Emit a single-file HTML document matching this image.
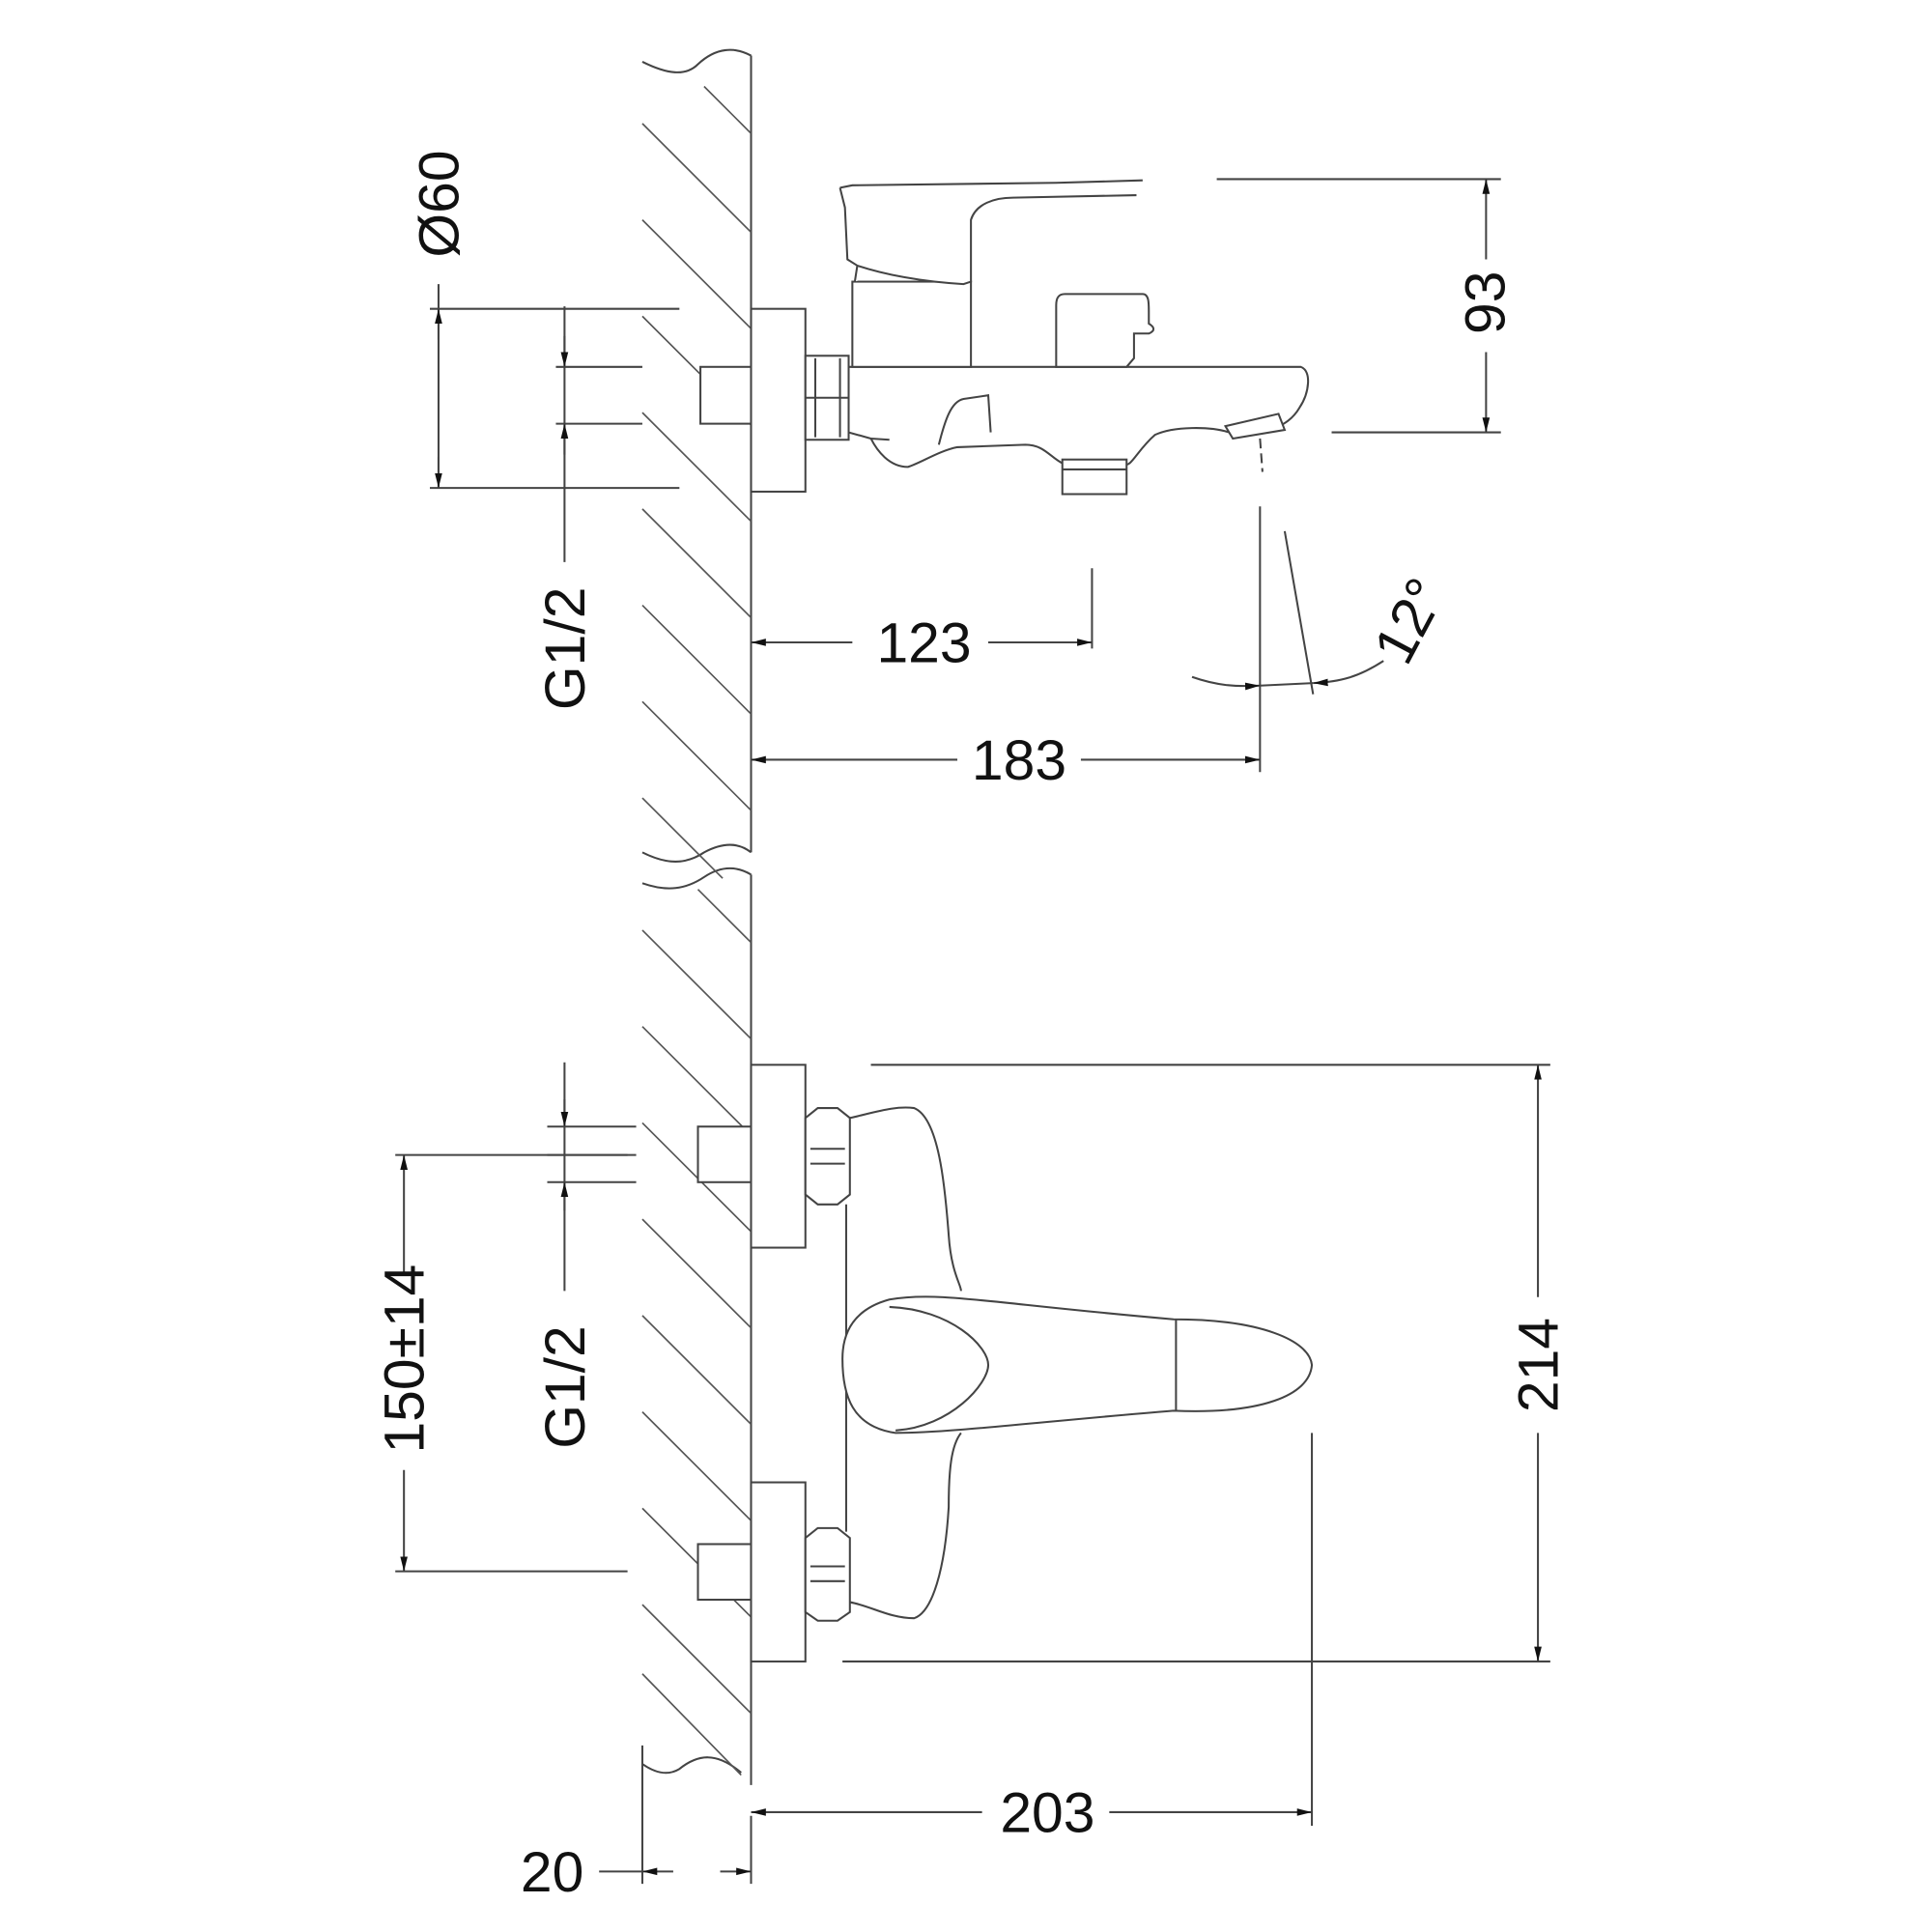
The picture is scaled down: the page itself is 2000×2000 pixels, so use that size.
<!DOCTYPE html>
<html><head><meta charset="utf-8"><style>html,body{margin:0;padding:0;background:#fff;overflow:hidden}svg{display:block}</style></head>
<body>
<svg width="2000" height="2000" viewBox="0 0 1564 1564" xmlns="http://www.w3.org/2000/svg">
<defs>
<marker id="a" viewBox="0 0 10 10" refX="10" refY="5" markerWidth="12" markerHeight="12" markerUnits="userSpaceOnUse" orient="auto-start-reverse"><path d="M0,2.5 L10,5 L0,7.5z" fill="#111"/></marker>
<clipPath id="hc"><rect x="500" y="0" width="108" height="1440"/></clipPath>
</defs>
<g fill="none" stroke="#444" stroke-width="1.6">
<line x1="608" y1="45" x2="608" y2="690"/>
<path d="M520,50 C540,60 555,62 565,52 C580,38 595,38 608,45"/>
<path d="M520,690 C540,700 555,700 570,690 C585,682 598,682 608,690"/>
<path d="M520,715 C540,722 555,720 570,710 C585,700 598,702 608,708"/>
<line x1="608" y1="708" x2="608" y2="1445"/>
<line x1="608" y1="1470" x2="608" y2="1525"/>
<path d="M520,1428 C530,1435 540,1438 550,1432 C565,1420 580,1418 600,1435"/>
<line x1="520" y1="1413" x2="520" y2="1525"/>
<g stroke="#555" stroke-width="1.3" clip-path="url(#hc)">
<line x1="570" y1="70" x2="608" y2="108"/>
<line x1="520" y1="100" x2="608" y2="188"/>
<line x1="520" y1="178" x2="608" y2="266"/>
<line x1="520" y1="256" x2="608" y2="344"/>
<line x1="520" y1="334" x2="608" y2="422"/>
<line x1="520" y1="412" x2="608" y2="500"/>
<line x1="520" y1="490" x2="608" y2="578"/>
<line x1="520" y1="568" x2="608" y2="656"/>
<line x1="520" y1="646" x2="585" y2="711"/>
<line x1="565" y1="720" x2="608" y2="763"/>
<line x1="520" y1="753" x2="608" y2="841"/>
<line x1="520" y1="831" x2="608" y2="919"/>
<line x1="520" y1="909" x2="608" y2="997"/>
<line x1="520" y1="987" x2="608" y2="1075"/>
<line x1="520" y1="1065" x2="608" y2="1153"/>
<line x1="520" y1="1143" x2="608" y2="1231"/>
<line x1="520" y1="1221" x2="608" y2="1309"/>
<line x1="520" y1="1299" x2="608" y2="1387"/>
<line x1="520" y1="1355" x2="600" y2="1437"/>
</g>
</g>
<g fill="#fff" stroke="#444" stroke-width="1.6">
<rect x="567" y="297" width="41" height="46"/>
<rect x="608" y="250" width="44" height="148"/>
<rect x="652" y="288" width="35" height="68"/>
<line x1="660" y1="290" x2="660" y2="354"/><line x1="680" y1="290" x2="680" y2="354"/><line x1="652" y1="322" x2="687" y2="322"/>
<path d="M687,297 L1053,297 C1062,300 1060,318 1052,330 C1045,342 1035,345 1030,348 L995,350 C980,345 950,345 935,352 C920,365 915,380 910,375 L860,375 C850,370 845,360 830,360 L775,362 C760,365 745,375 735,378 C720,378 710,365 705,355 L687,350 Z"/>
<path d="M760,360 C765,340 770,325 780,323 L800,320 L802,350"/>
<path d="M705,355 L720,356"/>
<rect x="690" y="228" width="96" height="69"/>
<path d="M692,228 L694,215 C715,222 745,228 780,230 L786,228 L786,178 C790,165 805,160 820,160 L920,158 M680,152 L690,150 L855,148 L925,146 M680,152 L684,168 L686,210 L694,215"/>
<path d="M855,297 L855,247 C855,240 858,238 862,238 L925,238 C930,238 930,245 930,252 L930,262 C935,265 935,268 930,270 L918,270 L918,290 L912,297 Z"/>
<rect x="860" y="372" width="52" height="28"/>
<line x1="860" y1="380" x2="912" y2="380"/>
<path d="M992,345 L1035,335 L1040,348 L998,355 Z"/>
</g>
<g fill="none" stroke="#444" stroke-width="1.6">
<line x1="1020" y1="355" x2="1022" y2="382" stroke-dasharray="8,4"/>
<line x1="985" y1="145" x2="1215" y2="145"/>
<line x1="1078" y1="350" x2="1215" y2="350"/>
<line x1="1203" y1="210" x2="1203" y2="145" marker-end="url(#a)"/>
<line x1="1203" y1="285" x2="1203" y2="350" marker-end="url(#a)"/>
<line x1="348" y1="250" x2="550" y2="250"/>
<line x1="348" y1="395" x2="550" y2="395"/>
<line x1="355" y1="230" x2="355" y2="395"/>
<line x1="355" y1="275" x2="355" y2="250" marker-end="url(#a)"/>
<line x1="355" y1="370" x2="355" y2="395" marker-end="url(#a)"/>
<line x1="450" y1="297" x2="520" y2="297"/>
<line x1="450" y1="343" x2="520" y2="343"/>
<line x1="457" y1="248" x2="457" y2="455"/>
<line x1="457" y1="272" x2="457" y2="297" marker-end="url(#a)"/>
<line x1="457" y1="368" x2="457" y2="343" marker-end="url(#a)"/>
<line x1="884" y1="460" x2="884" y2="525"/>
<line x1="690" y1="520" x2="608" y2="520" marker-end="url(#a)"/>
<line x1="800" y1="520" x2="884" y2="520" marker-end="url(#a)"/>
<line x1="1020" y1="410" x2="1020" y2="625"/>
<line x1="775" y1="615" x2="608" y2="615" marker-end="url(#a)"/>
<line x1="875" y1="615" x2="1020" y2="615" marker-end="url(#a)"/>
<line x1="1040" y1="430" x2="1063" y2="562"/>
<path d="M965,548 C985,555 1000,556 1020,555" marker-end="url(#a)"/>
<path d="M1120,535 C1100,548 1085,552 1063,553" marker-end="url(#a)"/>
<path d="M1020,555 L1063,553"/>
<line x1="705" y1="862" x2="1255" y2="862"/>
<line x1="682" y1="1345" x2="1255" y2="1345"/>
<line x1="1245" y1="1050" x2="1245" y2="862" marker-end="url(#a)"/>
<line x1="1245" y1="1160" x2="1245" y2="1345" marker-end="url(#a)"/>
<line x1="1062" y1="1160" x2="1062" y2="1478"/>
<line x1="795" y1="1467" x2="608" y2="1467" marker-end="url(#a)"/>
<line x1="898" y1="1467" x2="1062" y2="1467" marker-end="url(#a)"/>
<line x1="320" y1="935" x2="508" y2="935"/>
<line x1="320" y1="1272" x2="508" y2="1272"/>
<line x1="327" y1="1030" x2="327" y2="935" marker-end="url(#a)"/>
<line x1="327" y1="1190" x2="327" y2="1272" marker-end="url(#a)"/>
<line x1="443" y1="912" x2="515" y2="912"/>
<line x1="443" y1="935" x2="515" y2="935"/>
<line x1="443" y1="957" x2="515" y2="957"/>
<line x1="457" y1="860" x2="457" y2="1045"/>
<line x1="457" y1="890" x2="457" y2="912" marker-end="url(#a)"/>
<line x1="457" y1="980" x2="457" y2="957" marker-end="url(#a)"/>
<line x1="485" y1="1515" x2="520" y2="1515"/>
<line x1="545" y1="1515" x2="520" y2="1515" marker-end="url(#a)"/>
<line x1="583" y1="1515" x2="608" y2="1515" marker-end="url(#a)"/>
</g>
<g fill="#fff" stroke="#444" stroke-width="1.6">
<path d="M685,975 L685,1240 M688,905 C710,900 725,895 740,897 C760,905 765,960 768,1000 C770,1030 778,1040 778,1045 M778,1160 C770,1170 768,1190 768,1220 C765,1270 755,1305 740,1310 C720,1310 705,1300 688,1297"/>
<rect x="565" y="912" width="43" height="45"/>
<rect x="565" y="1250" width="43" height="45"/>
<rect x="608" y="862" width="44" height="148"/>
<rect x="608" y="1200" width="44" height="145"/>
<path d="M652,905 L662,897 L678,897 L688,905 L688,967 L678,975 L662,975 L652,967 Z"/>
<line x1="656" y1="930" x2="684" y2="930"/><line x1="656" y1="942" x2="684" y2="942"/>
<path d="M652,1245 L662,1237 L678,1237 L688,1245 L688,1305 L678,1312 L662,1312 L652,1305 Z"/>
<line x1="656" y1="1268" x2="684" y2="1268"/><line x1="656" y1="1280" x2="684" y2="1280"/>
<path d="M720,1052 C760,1045 800,1055 950,1068 C1020,1068 1060,1085 1062,1105 C1060,1130 1020,1145 950,1142 C850,1150 770,1160 725,1160 C690,1155 682,1130 682,1100 C682,1072 698,1058 720,1052 Z"/>
<path d="M720,1058 C770,1060 800,1090 800,1105 C800,1120 770,1155 725,1158" fill="none"/>
<line x1="952" y1="1068" x2="952" y2="1142"/>
</g>
<g font-family="'Liberation Sans', sans-serif" font-size="46" fill="#111" text-anchor="middle">
<text x="748" y="536">123</text>
<text x="825" y="631">183</text>
<text x="848" y="1483">203</text>
<text x="447" y="1531">20</text>
<text transform="translate(1218,245) rotate(-90)">93</text>
<text transform="translate(371,165) rotate(-90)">Ø60</text>
<text transform="translate(473,525) rotate(-90)">G1/2</text>
<text transform="translate(473,1123) rotate(-90)">G1/2</text>
<text transform="translate(343,1100) rotate(-90)">150±14</text>
<text transform="translate(1261,1105) rotate(-90)">214</text>
<text transform="translate(1155,510) rotate(-62)">12°</text>
</g>
</svg>
</body></html>
